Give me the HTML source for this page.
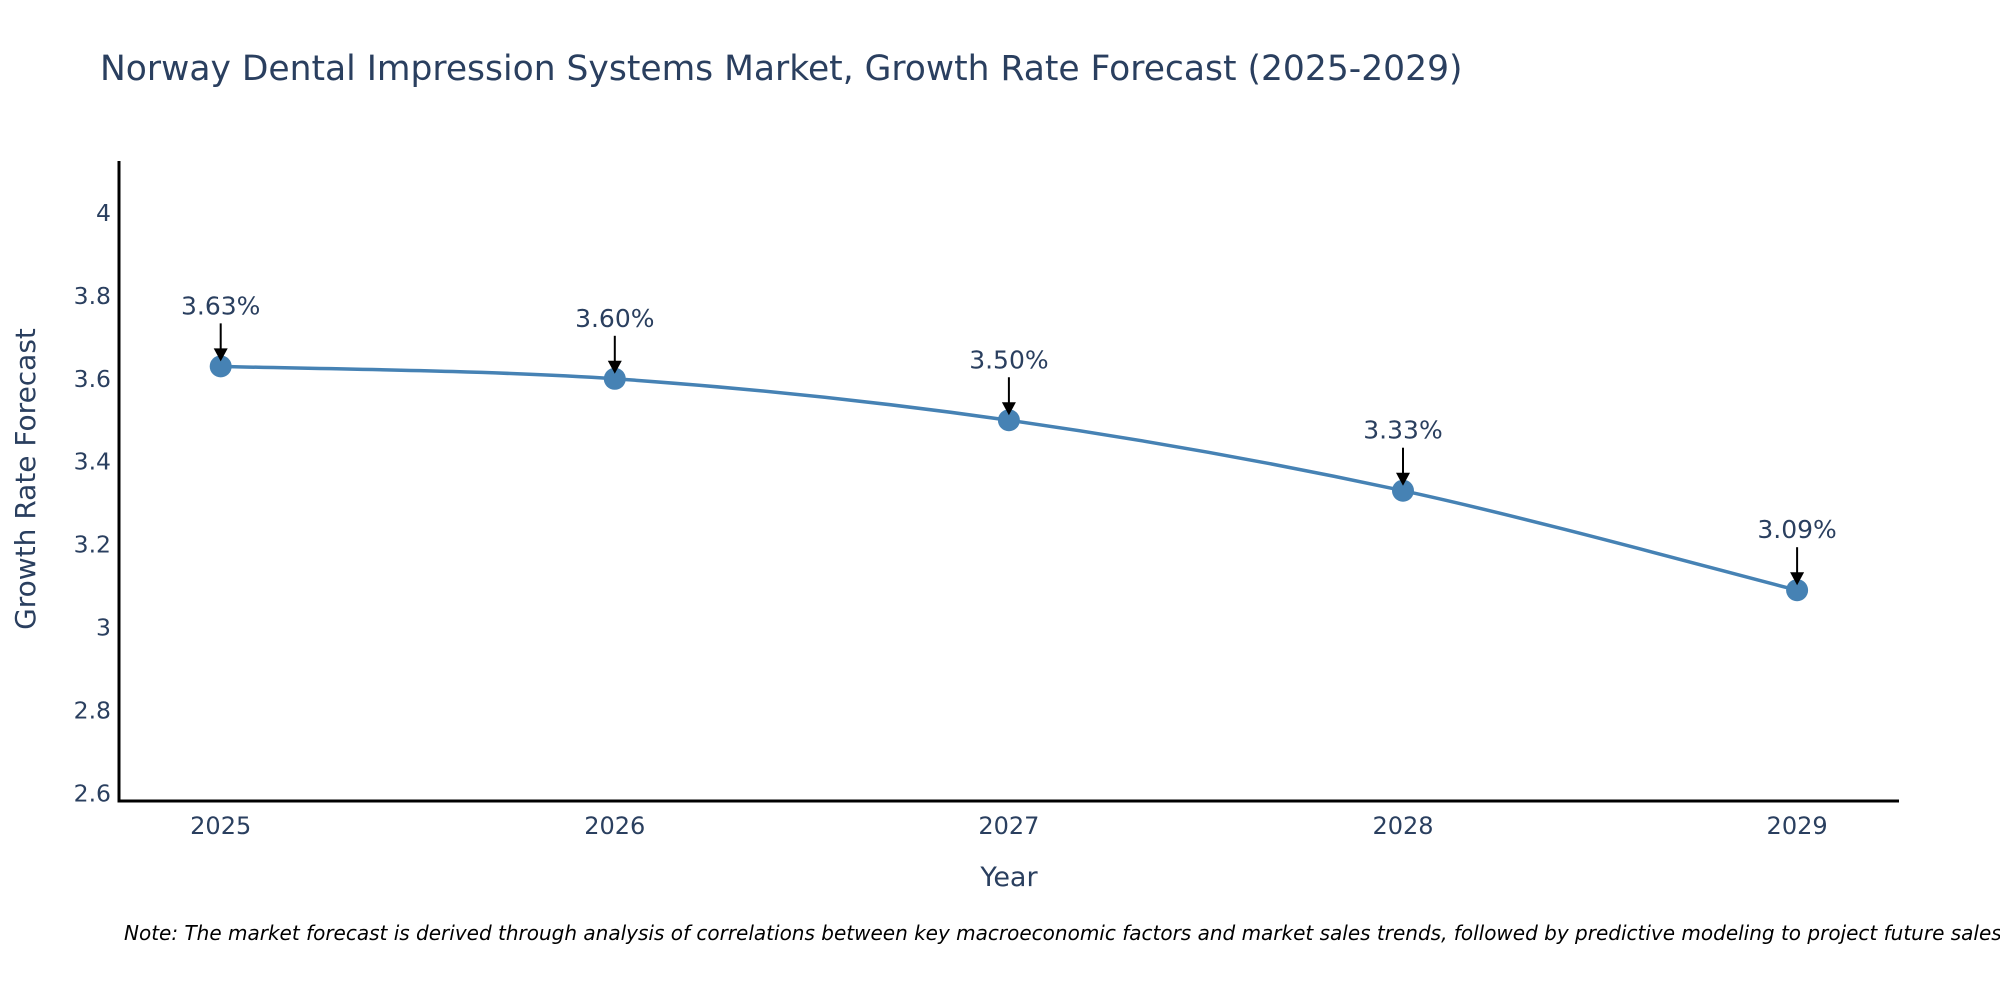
<!DOCTYPE html>
<html><head><meta charset="utf-8"><style>
body{margin:0;background:#fff;}
svg{display:block;}
text{font-family:"DejaVu Sans","Liberation Sans",sans-serif;fill:#2a3f5f;}
</style></head><body>
<svg id="chart" width="2000" height="1000" xmlns="http://www.w3.org/2000/svg">
<text x="100" y="80" font-size="34.5">Norway Dental Impression Systems Market, Growth Rate Forecast (2025-2029)</text>
<g id="yticks"></g><g id="xticks"></g>
<line x1="119" y1="161" x2="119" y2="802" stroke="#000" stroke-width="3"/>
<line x1="117.5" y1="801" x2="1899" y2="801" stroke="#000" stroke-width="3"/>
<g id="series"></g><g id="annos"></g>
<text x="1009" y="886" font-size="27" text-anchor="middle">Year</text>
<text transform="translate(35,479) rotate(-90)" font-size="28" text-anchor="middle">Growth Rate Forecast</text>
<text x="124" y="940" font-size="20" font-style="italic" style="fill:#000">Note: The market forecast is derived through analysis of correlations between key macroeconomic factors and market sales trends, followed by predictive modeling to project future sales.</text>
</svg>
<script>
const years = [2025, 2026, 2027, 2028, 2029];
const values = [3.63, 3.60, 3.50, 3.33, 3.09];
const valueLabels = ["3.63%", "3.60%", "3.50%", "3.33%", "3.09%"];
const yTickValues = [2.6, 2.8, 3, 3.2, 3.4, 3.6, 3.8, 4];
const yTickLabels = ["2.6", "2.8", "3", "3.2", "3.4", "3.6", "3.8", "4"];

const NS = "http://www.w3.org/2000/svg";
function xs(v){return 220.7 + (v - 2025) * 394.1;}
function ys(v){return 213 + (4 - v) * 414.5;}
function mk(tag, attrs, parent){const e=document.createElementNS(NS,tag);for(const k in attrs)e.setAttribute(k,attrs[k]);parent.appendChild(e);return e;}

const yt=document.getElementById('yticks');
yTickValues.forEach((v,i)=>{
  const t=mk('text',{x:111,y:ys(v)+8,'font-size':23.5,'text-anchor':'end'},yt);
  
  
  t.textContent=yTickLabels[i];
});
const xt=document.getElementById('xticks');
years.forEach(y=>{
  const t=mk('text',{x:xs(y),y:834,'font-size':24,'text-anchor':'middle'},xt);
  
  
  t.textContent=String(y);
});

const pts=years.map((y,i)=>[xs(y),ys(values[i])]);
let d='M'+pts[0][0]+','+pts[0][1];
for(let i=0;i<pts.length-1;i++){
  const p0=pts[Math.max(0,i-1)],p1=pts[i],p2=pts[i+1],p3=pts[Math.min(pts.length-1,i+2)];
  const c1=[p1[0]+(p2[0]-p0[0])/6,p1[1]+(p2[1]-p0[1])/6];
  const c2=[p2[0]-(p3[0]-p1[0])/6,p2[1]-(p3[1]-p1[1])/6];
  d+=' C'+c1+' '+c2+' '+p2;
}
const s=document.getElementById('series');
const line=mk('path',{d:d,fill:'none',stroke:'#4682b4','stroke-width':3.5},s);


const an=document.getElementById('annos');
pts.forEach((p,i)=>{
  const c=mk('circle',{cx:p[0],cy:p[1],r:11,fill:'#4682b4'},s);
  
  
  const l=mk('line',{x1:p[0],y1:p[1]-43,x2:p[0],y2:p[1]-14,stroke:'#000','stroke-width':2},an);
  
  
  const h=mk('polygon',{points:(p[0]-7)+','+(p[1]-18)+' '+(p[0]+7)+','+(p[1]-18)+' '+p[0]+','+(p[1]-5),fill:'#000'},an);
  
  
  const t=mk('text',{x:p[0],y:p[1]-52,'font-size':25,'text-anchor':'middle'},an);
  
  
  t.textContent=valueLabels[i];
});
</script>
</body></html>
